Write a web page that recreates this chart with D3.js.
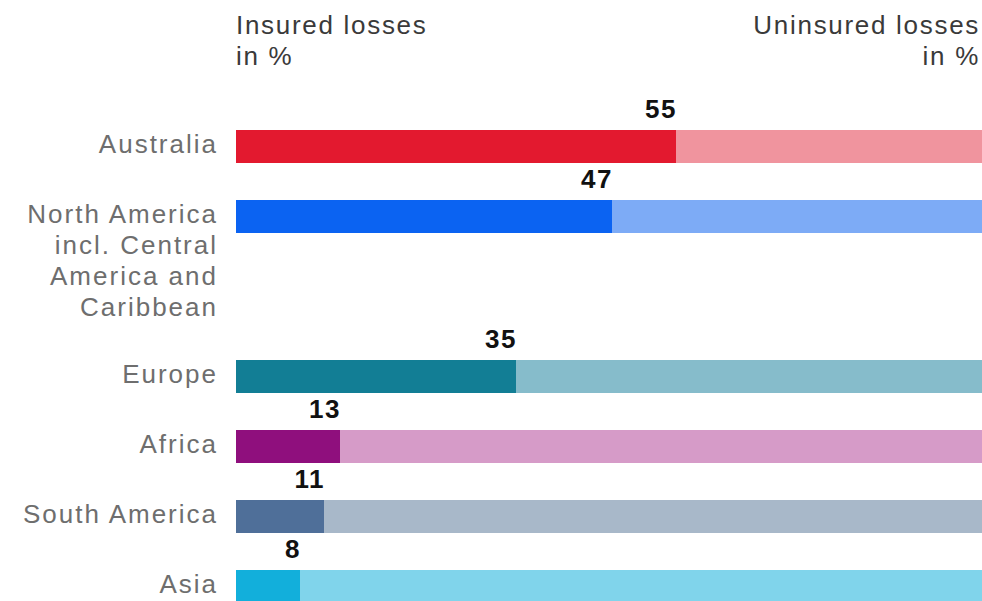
<!DOCTYPE html>
<html>
<head>
<meta charset="utf-8">
<script src="https://cdn.jsdelivr.net/npm/d3@7"></script>
<style>
	body { margin: 0; background: #fff; }
	svg { display: block; font-family: "Liberation Sans", Arial, sans-serif; }
	.label { fill: #6e6e6e; font-size: 26px; letter-spacing: 2px; }
	.head { fill: #3a3a3a; font-size: 26px; letter-spacing: 1.7px; }
	.value { fill: #111; font-size: 26px; font-weight: bold; letter-spacing: 1.5px; }
</style>
</head>
<body>
<svg class="chart"></svg>
<script>
// data
const regions = ["Australia", "North America", "Europe", "Africa", "South America", "Asia"];
const labelLines = [
	["Australia"],
	["North America", "incl. Central", "America and", "Caribbean"],
	["Europe"],
	["Africa"],
	["South America"],
	["Asia"],
];
const insured = [55, 47, 35, 13, 11, 8];
const darkColors = ["#e3192f", "#0b63f2", "#127e95", "#8f0f7d", "#4f6f99", "#12afdb"];
const lightColors = ["#f0949e", "#7dabf6", "#86bccb", "#d69bc8", "#a8b8c9", "#80d4eb"];

const size = { w: 982, h: 601 };
const svg = d3.select("svg.chart").attr("width", size.w).attr("height", size.h);
const g = svg.append("g");

// 8px per percent, so the 100% end sits past the right edge (cropped like the source)
const xScale = d3.scaleLinear().domain([0, 100]).range([236, 1036]);

// row layout: each row gets a gap plus one line height per label line
const rowGap = 40, lineH = 30, barH = 33;
let offsets = [], acc = 0;
labelLines.forEach((lines) => {
	offsets.push(acc);
	acc += rowGap + lineH * lines.length;
});
const yScale = d3.scaleLinear().domain([0, acc]).range([130, 130 + acc]);

const rows = regions.map((r, i) => ({
	region: r,
	lines: labelLines[i],
	value: insured[i],
	dark: darkColors[i],
	light: lightColors[i],
	top: yScale(offsets[i]),
}));

// headers
const headL = g.append("text").attr("class", "head").attr("x", xScale(0));
headL.append("tspan").attr("x", xScale(0)).attr("y", 34).text("Insured losses");
headL.append("tspan").attr("x", xScale(0)).attr("y", 65).text("in %");

const headR = g.append("text").attr("class", "head").attr("text-anchor", "end");
headR.append("tspan").attr("x", 980).attr("y", 34).text("Uninsured losses");
headR.append("tspan").attr("x", 980).attr("y", 65).text("in %");

const row = g.selectAll("g.row")
	.data(rows)
	.join("g")
	.attr("class", "row")
	.attr("transform", (d) => `translate(0,${d.top})`);

row.append("rect")
	.attr("x", xScale(0))
	.attr("y", 0)
	.attr("width", xScale(100) - xScale(0))
	.attr("height", barH)
	.attr("fill", (d) => d.light);

row.append("rect")
	.attr("x", xScale(0))
	.attr("y", 0)
	.attr("width", (d) => xScale(d.value) - xScale(0))
	.attr("height", barH)
	.attr("fill", (d) => d.dark);

row.append("text")
	.attr("class", "value")
	.attr("text-anchor", "end")
	.attr("x", (d) => xScale(d.value) + 1)
	.attr("y", -12)
	.text((d) => d.value);

row.append("text")
	.attr("class", "label")
	.attr("text-anchor", "end")
	.selectAll("tspan")
	.data((d) => d.lines)
	.join("tspan")
	.attr("x", 218)
	.attr("y", (d, i) => 23 + i * 31)
	.text((d) => d);
</script>
</body>
</html>
